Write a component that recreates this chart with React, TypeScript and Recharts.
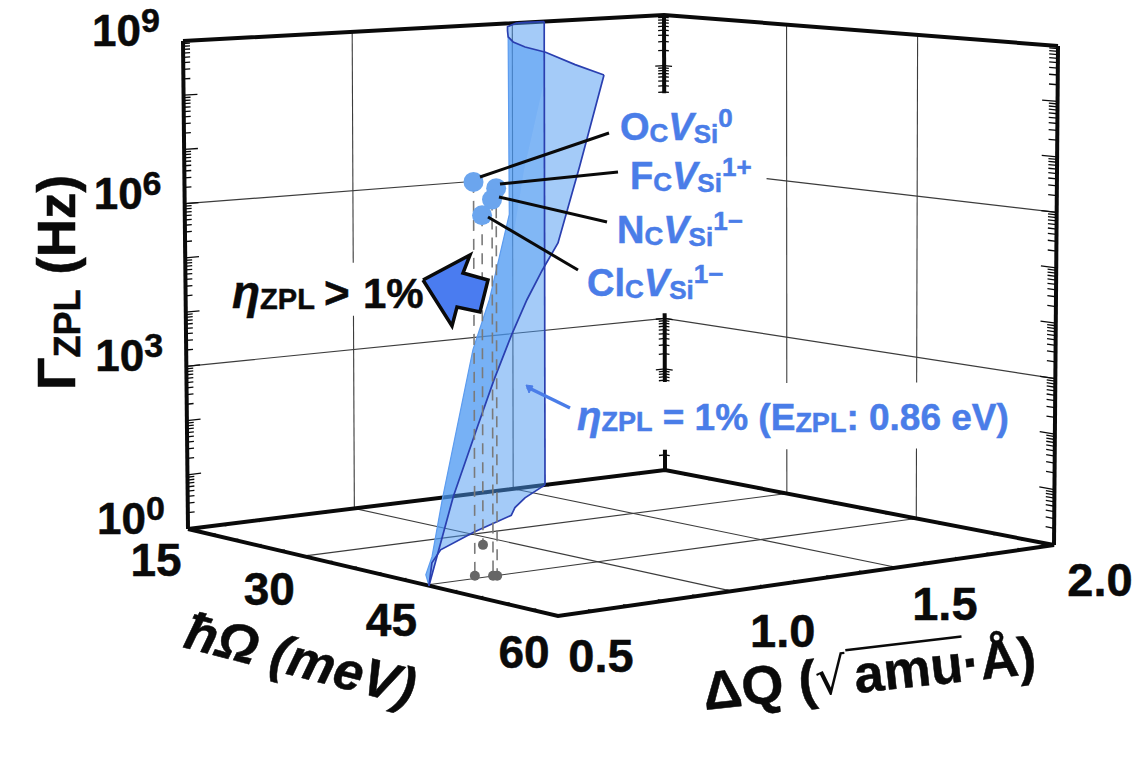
import React from "react";
import { ScatterChart, Scatter, XAxis, YAxis } from "recharts";

const W = 1140;
const H = 761;

// axis values: hw = hbar omega (meV), dq = delta Q, g = log10 of gamma ZPL (Hz)
const hwLabels = [15, 30, 45, 60];
const dqLabels = [0.5, 1.0, 1.5, 2.0];
const gLabels = [0, 3, 6, 9];
const hwMinor = [18, 21, 24, 27, 33, 36, 39, 42, 48, 51, 54, 57];
const dqMinor = [0.6, 0.7, 0.8, 0.9, 1.1, 1.2, 1.3, 1.4, 1.6, 1.7, 1.8, 1.9];
const decades = [0, 1, 2, 3, 4, 5, 6, 7, 8];
const decadeSteps = [1, 2, 3, 4, 5, 6, 7, 8, 9];

// eta = 1% surface, boundary curves as [hw, dq, g]
const surfaceTop = [[15, 1.603, 9], [15, 1.544, 9], [15, 1.513, 9], [18, 1.41, 9], [21.65, 1.319, 9], [26.9, 1.19, 9], [31.4, 1.093, 9], [36.1, 1.011, 9], [41.1, 0.9455, 9], [51.6, 0.763, 9], [60, 0.627, 9]];
const surfaceFold = [[26.9, 1.19, 9], [28.5, 1.1525, 5.75], [33, 0.98, 4.38], [35.25, 0.875, 3.59], [42, 0.619, 1.295], [42.9, 0.567, 0.368], [44.25, 0.5165, 0.14], [45.3, 0.5, 0]];
const surfaceEdge = [[45.3, 0.5, 0], [48.2, 0.5, 1.63], [51.1, 0.5, 2.95], [52.9, 0.5, 3.76], [54.9, 0.5, 4.58], [56.6, 0.5, 5.21], [58.3, 0.5, 5.75], [60, 0.5, 6.24], [60, 0.56, 7.5], [60, 0.627, 9]];
const surfaceBottom = [[45.3, 0.5, 0], [38, 0.685, 0], [34, 0.8075, 0], [29.3, 1.023, 0], [25, 1.244, 0], [22.3, 1.323, 0], [19.1, 1.435, 0], [15, 1.603, 0]];
const surfaceWall = [[15, 1.603, 0], [15, 1.603, 9]];
const surfaceLight = [[28.5, 1.26, 8.16], [28.5, 1.1975, 6.54], [28.5, 1.163, 5.28], [54.9, 0.5, 4.58], [56.6, 0.5, 5.21], [58.3, 0.5, 5.75], [15, 1.603, 4.2], [15, 1.603, 7.8]];

// defects: hw, dq, log10 gamma
const defectNames = ["O", "F", "N", "Cl"];
const defectHw = [44.1, 45.1, 44.9, 34.2];
const defectDq = [0.661, 0.701, 0.694, 0.929];
const defectG = [6.88, 6.77, 6.57, 5.96];

const frame3d = { floorLeft: [188, 529], floorFront: [558, 616], floorRight: [1054, 545], floorBack: [665, 470], topLeft: [183, 41], topFront: [558, 78], topRight: [1058, 46], topBack: [664, 15] };

// label nudges from the axis edge, one per tick
const hwLabelDx = [-32, -34, -35, -34];
const hwLabelDy = [47, 49, 51, 52];
const dqLabelDx = [43, 51, 48, 46];
const dqLabelDy = [56, 56, 53, 51];

function homography(p0, p1, p2, p3) {
  const dx1 = p1[0] - p2[0], dx2 = p3[0] - p2[0], sx = p0[0] - p1[0] + p2[0] - p3[0];
  const dy1 = p1[1] - p2[1], dy2 = p3[1] - p2[1], sy = p0[1] - p1[1] + p2[1] - p3[1];
  const den = dx1 * dy2 - dx2 * dy1;
  const g = (sx * dy2 - dx2 * sy) / den;
  const h = (dx1 * sy - sx * dy1) / den;
  const a = p1[0] - p0[0] + g * p1[0], b = p3[0] - p0[0] + h * p3[0];
  const d = p1[1] - p0[1] + g * p1[1], e = p3[1] - p0[1] + h * p3[1];
  return (u, v) => {
    const w = g * u + h * v + 1;
    return [(a * u + b * v + p0[0]) / w, (d * u + e * v + p0[1]) / w];
  };
}

const floorMap = homography(frame3d.floorLeft, frame3d.floorFront, frame3d.floorRight, frame3d.floorBack);
const topMap = homography(frame3d.topLeft, frame3d.topFront, frame3d.topRight, frame3d.topBack);

function project(hw, dq, g) {
  const u = (hw - 15) / 45;
  const v = (dq - 0.5) / 1.5;
  const f = floorMap(u, v);
  const t = topMap(u, v);
  return { x: f[0] + ((t[0] - f[0]) * g) / 9, y: f[1] + ((t[1] - f[1]) * g) / 9 };
}

const path = (pts) => pts.map((p) => project(p[0], p[1], p[2]));

const NoDot = () => <g />;

function poly(key, data, line) {
  return <Scatter key={key} data={data} line={line} shape={NoDot} fill="none" isAnimationActive={false} />;
}

// tick marks, one short line per point
function tickSet(key, items, color, width) {
  const Tick = (p) => (
    <line x1={p.cx} y1={p.cy} x2={p.cx + p.payload.dx} y2={p.cy + p.payload.dy} stroke={color} strokeWidth={width} />
  );
  return <Scatter key={key} data={items} shape={Tick} isAnimationActive={false} />;
}

function tickFrom(a, b) {
  const s = project(a[0], a[1], a[2]);
  const e = project(b[0], b[1], b[2]);
  return { x: s.x, y: s.y, dx: e.x - s.x, dy: e.y - s.y };
}

const inRanges = (g, ranges) => ranges.some((r) => g >= r[0] && g <= r[1]);
const backVisible = [[0, 0.4], [1.74, 3.1], [7.45, 9]];

const gTicks = [];
decades.forEach((d) => decadeSteps.forEach((k) => gTicks.push({ g: d + Math.log10(k), major: k === 1 })));
gTicks.push({ g: 9, major: true });

const wallTicks = [];
gTicks.forEach(({ g, major }) => {
  wallTicks.push(tickFrom([15, 0.5, g], [15, major ? 0.54 : 0.52, g]));
  wallTicks.push(tickFrom([60, 2, g], [major ? 58.4 : 59.1, 2, g]));
  if (inRanges(g, backVisible)) {
    wallTicks.push(tickFrom([15, 2, g], [15, major ? 1.97 : 1.98, g]));
    wallTicks.push(tickFrom([15, 2, g], [major ? 16 : 15.6, 2, g]));
  }
});

const edgeTicks = [];
hwMinor.concat(hwLabels).forEach((hw) => {
  edgeTicks.push(tickFrom([hw, 0.5, 0], [hw, 0.515, 0]));
  edgeTicks.push(tickFrom([hw, 2, 0], [hw, 1.985, 0]));
});
dqMinor.concat(dqLabels).forEach((dq) => {
  edgeTicks.push(tickFrom([15, dq, 0], [15.6, dq, 0]));
  edgeTicks.push(tickFrom([60, dq, 0], [59.4, dq, 0]));
});

const FONT = "'Liberation Sans', Arial, sans-serif";

// rich text: each piece has t, size, optional italic, shift (down from baseline), x
function Rich({ x, y, segs, fill, rotate }) {
  let prev = 0;
  return (
    <text
      transform={`translate(${x} ${y})${rotate ? ` rotate(${rotate})` : ""}`}
      fontFamily={FONT}
      fontWeight="bold"
      fill={fill}
      stroke={fill}
      strokeWidth={0.5}
      style={{ whiteSpace: "pre" }}
    >
      {segs.map((s, i) => {
        const shift = s.shift || 0;
        const dy = shift - prev;
        prev = shift;
        return (
          <tspan key={i} x={s.x} dy={dy} fontSize={s.size} fontStyle={s.italic ? "italic" : "normal"}>
            {s.t}
          </tspan>
        );
      })}
    </text>
  );
}

function label(key, x, y, segs, fill, rotate) {
  const Shape = (p) => <Rich x={p.cx} y={p.cy} segs={segs} fill={fill} rotate={rotate} />;
  return <Scatter key={key} data={[{ x, y }]} shape={Shape} isAnimationActive={false} />;
}

function centered(key, x, y, t, size) {
  const Shape = (p) => (
    <text x={p.cx} y={p.cy} textAnchor="middle" fontFamily={FONT} fontWeight="bold" fontSize={size} fill={BLACK} stroke={BLACK} strokeWidth={0.5}>
      {t}
    </text>
  );
  return <Scatter key={key} data={[{ x, y }]} shape={Shape} isAnimationActive={false} />;
}

const BLACK = "#0a0a0a";
const BLUE = "#4a7de8";
const GRID = { stroke: "#3c3c3c", strokeWidth: 1.1, fill: "none" };
const EDGE = { stroke: BLACK, strokeWidth: 4, fill: "none" };
const SHEET = { fill: "#4a98f2", fillOpacity: 0.5, stroke: "none" };
const OUTLINE = { stroke: "#2a3fb0", strokeWidth: 1.7, fill: "none" };
const LEADER = { stroke: BLACK, strokeWidth: 3, fill: "none" };

const defectLabel = (name, sup, sub = "C") => [
  { t: name, size: 38 },
  { t: sub, size: 26, shift: 2 },
  { t: "V", size: 38, italic: true },
  { t: "Si", size: 26, shift: 3 },
  { t: sup, size: 26, shift: -13 },
];

const dotShape = (color, r) => (p) => <circle cx={p.cx} cy={p.cy} r={r} fill={color} />;

function DqTitle(p) {
  return (
    <g transform={`translate(${p.cx} ${p.cy}) rotate(-6.3)`} fontFamily={FONT} fill={BLACK}>
      <text fontWeight="bold" fontSize={54} stroke={BLACK} strokeWidth={0.5}>ΔQ (</text>
      <text x={113} y={-2} fontSize={50} fontFamily="'DejaVu Sans', sans-serif">√</text>
      <text x={152} fontWeight="bold" fontSize={53} stroke={BLACK} strokeWidth={0.5}>amu·Å)</text>
      <line x1={146} y1={-44} x2={263} y2={-45} stroke={BLACK} strokeWidth={2.5} />
    </g>
  );
}

export default function App() {
  const marks = defectNames.map((n, i) => ({ name: n, ...project(defectHw[i], defectDq[i], defectG[i]) }));
  const shadows = defectNames.map((n, i) => ({ name: n, ...project(defectHw[i], defectDq[i], 0) }));

  return (
    <div style={{ position: "absolute", left: 0, top: 0, width: W, height: H, background: "#fff" }}>
      <ScatterChart width={W} height={H} margin={{ top: 0, right: 0, bottom: 0, left: 0 }}>
        <XAxis type="number" dataKey="x" domain={[0, W]} hide />
        <YAxis type="number" dataKey="y" domain={[0, H]} reversed hide />

        {/* walls and floor grid */}
        {poly("gw1a", path([[15, 1, 0], [15, 1, 3.64]]), GRID)}
        {poly("gw1b", path([[15, 1, 4.64], [15, 1, 9]]), GRID)}
        {poly("gw2", path([[15, 1.5, 0], [15, 1.5, 9]]), GRID)}
        {poly("gr1a", path([[30, 2, 0], [30, 2, 0.85]]), GRID)}
        {poly("gr1b", path([[30, 2, 2.12], [30, 2, 9]]), GRID)}
        {poly("gr2a", path([[45, 2, 0], [45, 2, 1.3]]), GRID)}
        {poly("gr2b", path([[45, 2, 2.53], [45, 2, 9]]), GRID)}
        {poly("gz3", path([[15, 0.5, 3], [15, 2, 3], [60, 2, 3]]), GRID)}
        {poly("gz6a", path([[15, 0.5, 6], [15, 1.39, 6]]), GRID)}
        {poly("gz6b", path([[27.6, 2, 6], [60, 2, 6]]), GRID)}
        {poly("gf1", path([[15, 1, 0], [60, 1, 0]]), GRID)}
        {poly("gf2", path([[15, 1.5, 0], [60, 1.5, 0]]), GRID)}
        {poly("gf3", path([[30, 0.5, 0], [30, 2, 0]]), GRID)}
        {poly("gf4", path([[45, 0.5, 0], [45, 2, 0]]), GRID)}
        {tickSet("wallTicks", wallTicks, BLACK, 1.3)}
        {tickSet("edgeTicks", edgeTicks, "#333", 1.2)}

        {/* frame */}
        {poly("fTop", path([[15, 0.5, 9], [15, 2, 9], [60, 2, 9]]), EDGE)}
        {poly("fLeft", path([[15, 0.5, 0], [15, 0.5, 9]]), EDGE)}
        {poly("fRight", path([[60, 2, 0], [60, 2, 9]]), EDGE)}
        {poly("fBack1", path([[15, 2, 7.45], [15, 2, 9]]), EDGE)}
        {poly("fBack2", path([[15, 2, 1.74], [15, 2, 3.1]]), EDGE)}
        {poly("fBack3", path([[15, 2, 0], [15, 2, 0.4]]), EDGE)}
        {poly("fFloor", path([[15, 0.5, 0], [60, 0.5, 0], [60, 2, 0], [15, 2, 0], [15, 0.5, 0]]), EDGE)}

        {/* surface */}
        {poly("s2", path([...surfaceTop.slice(0, 6), ...surfaceFold.slice(1), ...surfaceBottom.slice(1), surfaceWall[0]]), SHEET)}
        {poly("s1", path([...surfaceFold, ...surfaceEdge.slice(1), ...surfaceTop.slice(5).reverse()]), SHEET)}
        {poly("sLight", path(surfaceLight), { fill: "#ffffff", fillOpacity: 0.08, stroke: "none" })}
        {poly("sFold", path(surfaceFold), { stroke: "#5c9cf0", strokeWidth: 1.2, fill: "none" })}
        {poly("sWall", path(surfaceWall), OUTLINE)}
        {poly("sTop", path(surfaceTop), OUTLINE)}
        {poly("sEdge", path(surfaceEdge), OUTLINE)}
        {poly("sBottom", path(surfaceBottom), OUTLINE)}

        {/* drop lines and defect points */}
        {defectNames.map((n, i) =>
          poly(`drop${n}`, path([[defectHw[i], defectDq[i], defectG[i]], [defectHw[i], defectDq[i], 0]]), {
            stroke: "#7a7a7a",
            strokeWidth: 1.6,
            strokeDasharray: "11 8",
            fill: "none",
          })
        )}
        <Scatter data={shadows} shape={dotShape("#666666", 5)} isAnimationActive={false} />

        {/* arrow towards eta > 1% */}
        {poly("arrow", [{ x: 423, y: 280 }, { x: 470, y: 255 }, { x: 463, y: 273 }, { x: 488, y: 280 }, { x: 480, y: 312 }, { x: 457, y: 307 }, { x: 452, y: 326 }, { x: 423, y: 280 }], {
          fill: "#4a7cf0",
          stroke: BLACK,
          strokeWidth: 3.5,
        })}

        <Scatter data={marks} shape={dotShape("#6ba5ee", 10)} isAnimationActive={false} />

        {/* leaders */}
        {poly("lO", [{ x: 480, y: 177 }, { x: 609, y: 133 }], LEADER)}
        {poly("lF", [{ x: 500, y: 184 }, { x: 618, y: 172 }], LEADER)}
        {poly("lN", [{ x: 499, y: 197 }, { x: 607, y: 222 }], LEADER)}
        {poly("lCl", [{ x: 488, y: 217 }, { x: 578, y: 270 }], LEADER)}
        {poly("lEta", [{ x: 527, y: 387 }, { x: 570, y: 408 }], { stroke: BLUE, strokeWidth: 3.5, fill: "none" })}
        {poly("lEtaHead", [{ x: 526, y: 385 }, { x: 533, y: 386 }, { x: 529, y: 393 }, { x: 526, y: 385 }], { stroke: BLUE, strokeWidth: 1, fill: BLUE })}

        {/* defect labels */}
        {label("tO", 620, 140, defectLabel("O", "0"), BLUE)}
        {label("tF", 630, 189, defectLabel("F", "1+"), BLUE)}
        {label("tN", 617, 243, defectLabel("N", "1−"), BLUE)}
        {label("tCl", 587, 296, defectLabel("Cl", "1−"), BLUE)}
        {label("tEta", 577, 430, [
          { t: "η", size: 40, italic: true },
          { t: "ZPL", size: 27, shift: 1 },
          { t: " = 1% (E", size: 37 },
          { t: "ZPL", size: 27, shift: 2 },
          { t: ": 0.86 eV)", size: 37 },
        ], BLUE)}
        {label("tGt", 232, 308, [
          { t: "η", size: 46, italic: true },
          { t: "ZPL", size: 29, shift: 1 },
          { t: ">", size: 44, x: 92 },
          { t: "1%", size: 42, x: 131 },
        ], BLACK)}

        {/* axis tick labels */}
        {gLabels.map((g) => {
          const p = project(15, 0.5, g);
          return label(`g${g}`, p.x - 91, p.y + 5, [{ t: "10", size: 44 }, { t: String(g), size: 34, shift: -14 }], BLACK);
        })}
        {hwLabels.map((hw, i) => {
          const p = project(hw, 0.5, 0);
          return centered(`hw${hw}`, p.x + hwLabelDx[i], p.y + hwLabelDy[i], String(hw), 46);
        })}
        {dqLabels.map((dq, i) => {
          const p = project(60, dq, 0);
          return centered(`dq${dq}`, p.x + dqLabelDx[i], p.y + dqLabelDy[i], dq.toFixed(1), 47);
        })}

        {/* axis titles */}
        {label("yTitle", 75, 390, [
          { t: "Γ", size: 54 },
          { t: "ZPL", size: 36, shift: 5 },
          { t: " (Hz)", size: 53 },
        ], BLACK, -90)}
        {label("xTitle", 182, 647, [
          { t: "ħΩ (meV)", size: 53, italic: true },
        ], BLACK, 14.5)}
        <Scatter data={[{ x: 705, y: 710 }]} shape={DqTitle} isAnimationActive={false} />
      </ScatterChart>
    </div>
  );
}
